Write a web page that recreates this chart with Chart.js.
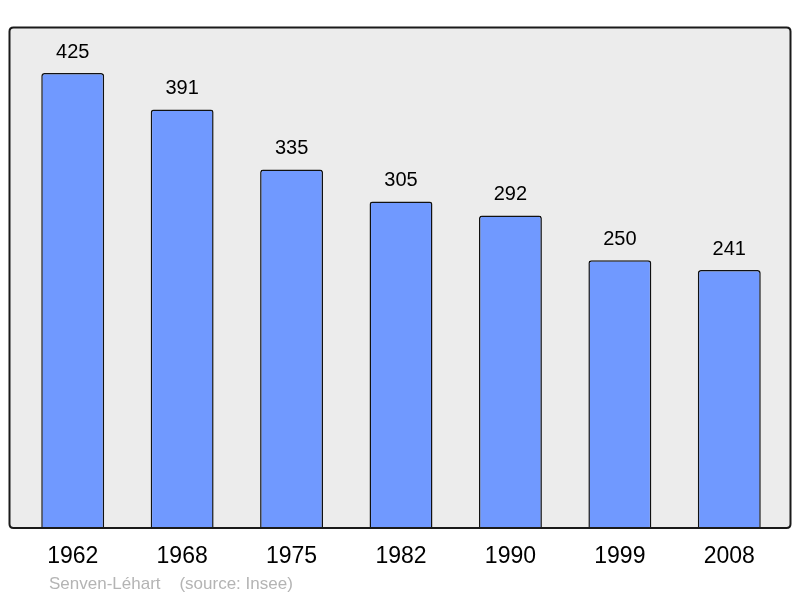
<!DOCTYPE html>
<html><head><meta charset="utf-8">
<script src="https://cdn.jsdelivr.net/npm/chart.js@4"></script>
<style>html,body{margin:0;padding:0;background:#fff}#c{display:block}</style>
</head><body>
<canvas id="c" width="800" height="598"></canvas>
<script>
const years = ["1962","1968","1975","1982","1990","1999","2008"];
const population = [425,391,335,305,292,250,241];
const caption = "Senven-Léhart    (source: Insee)";

function framePath(ctx, bottom){
  const x0=9.5,y0=27.5,x1=790.5,y1=bottom, r=4;
  ctx.beginPath();
  ctx.moveTo(x0+r,y0);ctx.lineTo(x1-r,y0);ctx.quadraticCurveTo(x1,y0,x1,y0+r);
  ctx.lineTo(x1,y1-r);ctx.quadraticCurveTo(x1,y1,x1-r,y1);
  ctx.lineTo(x0+r,y1);ctx.quadraticCurveTo(x0,y1,x0,y1-r);
  ctx.lineTo(x0,y0+r);ctx.quadraticCurveTo(x0,y0,x0+r,y0);ctx.closePath();
}

const deco = {
  id:'deco',
  beforeDraw(chart){
    const ctx = chart.ctx;
    ctx.save();
    framePath(ctx, chart.chartArea.bottom);
    ctx.fillStyle='#ececec';ctx.fill();
    ctx.restore();
  },
  afterDatasetsDraw(chart){
    const ctx = chart.ctx;
    const a = chart.chartArea;
    const xs = chart.scales.x, ys = chart.scales.y;
    ctx.save();
    framePath(ctx, a.bottom);
    ctx.strokeStyle='#1a1a1a';ctx.lineWidth=2;ctx.stroke();
    ctx.fillStyle='#000';ctx.textAlign='center';ctx.textBaseline='middle';
    ctx.font='20px "Liberation Sans", Arial, sans-serif';
    population.forEach((v,i)=>{
      ctx.fillText(String(v), xs.getPixelForValue(i), ys.getPixelForValue(v)-21);
    });
    ctx.font='23px "Liberation Sans", Arial, sans-serif';
    years.forEach((y,i)=>{
      ctx.fillText(y, xs.getPixelForValue(i), a.bottom+29);
    });
    ctx.fillStyle='#b4b4b4';ctx.textAlign='left';
    ctx.font='17px "Liberation Sans", Arial, sans-serif';
    ctx.fillText(caption, 49, 584);
    ctx.restore();
  }
};

new Chart(document.getElementById('c'),{
  type:'bar',
  data:{labels:years,datasets:[{data:population,backgroundColor:'#7099ff',borderColor:'#111',borderWidth:1.5,
    borderRadius:{topLeft:3,topRight:3,bottomLeft:0,bottomRight:0},borderSkipped:'bottom',
    barPercentage:0.575,categoryPercentage:1}]},
  options:{
    responsive:false,animation:false,
    layout:{padding:{left:18,right:16,top:27,bottom:70}},
    plugins:{legend:{display:false},tooltip:{enabled:false}},
    scales:{
      x:{display:false},
      y:{display:false,min:0,max:468}
    }
  },
  plugins:[deco]
});
</script>
</body></html>
